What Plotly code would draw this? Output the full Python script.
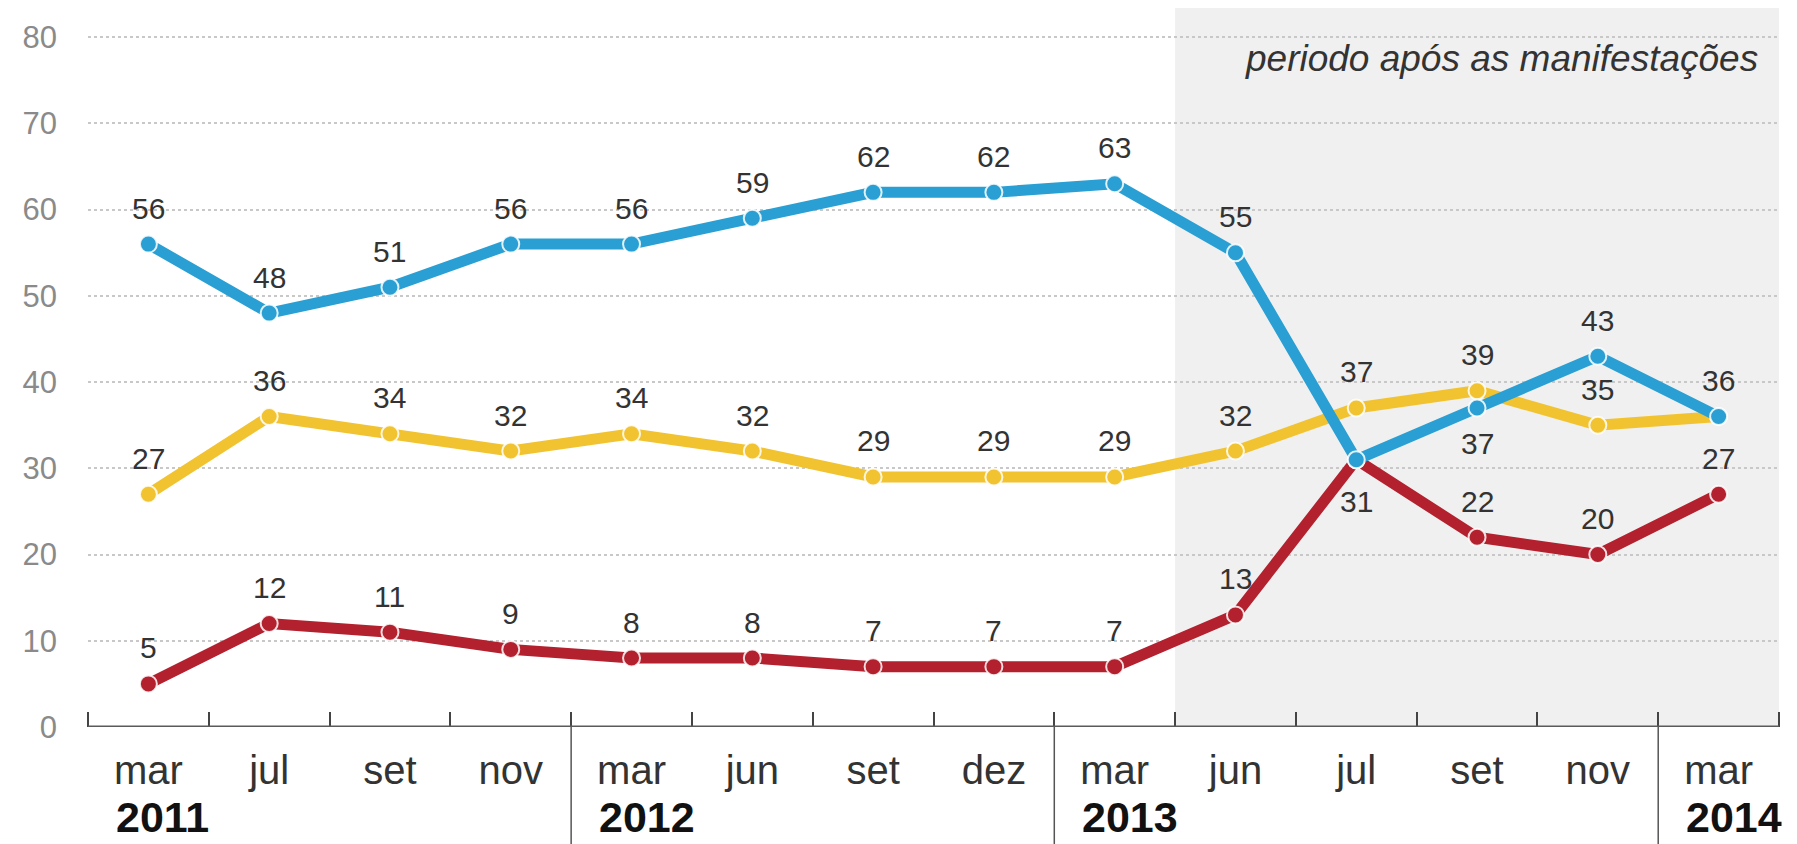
import plotly.graph_objects as go

# ---- data ----
months = ["mar", "jul", "set", "nov", "mar", "jun", "set", "dez",
          "mar", "jun", "jul", "set", "nov", "mar"]
year_labels = ["2011", "2012", "2013", "2014"]
year_start_idx = [0, 4, 8, 13]
blue_vals = [56, 48, 51, 56, 56, 59, 62, 62, 63, 55, 31, 37, 43, 36]
yellow_vals = [27, 36, 34, 32, 34, 32, 29, 29, 29, 32, 37, 39, 35, 36]
red_vals = [5, 12, 11, 9, 8, 8, 7, 7, 7, 13, 31, 22, 20, 27]
# label placement: 1 = above, -1 = below, 0 = hidden
blue_pos = [1, 1, 1, 1, 1, 1, 1, 1, 1, 1, -1, -1, 1, 1]
yellow_pos = [1, 1, 1, 1, 1, 1, 1, 1, 1, 1, 1, 1, 1, 0]
red_pos = [1, 1, 1, 1, 1, 1, 1, 1, 1, 1, 0, 1, 1, 1]
shade_from_idx = 9
y_ticks = [0, 10, 20, 30, 40, 50, 60, 70, 80]

BLUE = "#2a9fd3"
YELLOW = "#f2c331"
RED = "#b3202e"
FONT = "Liberation Sans, Arial, sans-serif"

x = list(range(len(months)))
fig = go.Figure()

for vals, col in [(yellow_vals, YELLOW), (red_vals, RED), (blue_vals, BLUE)]:
    fig.add_trace(go.Scatter(
        x=x, y=vals, mode="lines+markers",
        line=dict(color=col, width=11),
        marker=dict(color=col, size=17, line=dict(color="rgba(255,255,255,0.85)", width=2)),
        showlegend=False, hoverinfo="skip", cliponaxis=False))

annotations = []
for vals, pos in [(blue_vals, blue_pos), (yellow_vals, yellow_pos), (red_vals, red_pos)]:
    for i, (v, p) in enumerate(zip(vals, pos)):
        if p == 0:
            continue
        shift = 36 if p > 0 else -36
        if p < 0 and v < 33:
            shift = -42
        annotations.append(dict(
            x=i, y=v, xref="x", yref="y", text=str(v), showarrow=False,
            yshift=shift, font=dict(family=FONT, size=30, color="#333333")))

for lab, idx in zip(year_labels, year_start_idx):
    annotations.append(dict(
        x=idx - 0.5, y=-0.13, xref="x", yref="paper", text="<b>%s</b>" % lab,
        showarrow=False, xanchor="left", yanchor="middle", xshift=26,
        font=dict(family=FONT, size=43, color="#111111")))

annotations.append(dict(
    x=0.989, y=0.966, xref="paper", yref="paper",
    text="<i>periodo após as manifestações</i>", showarrow=False,
    xanchor="right", yanchor="middle",
    font=dict(family=FONT, size=37, color="#333333")))

shapes = [
    dict(type="rect", xref="x", yref="paper", x0=shade_from_idx - 0.5, x1=len(months) - 0.5,
         y0=0, y1=1.04, fillcolor="#f0f0f0", line=dict(width=0), layer="below"),
]
for idx in year_start_idx[1:]:
    shapes.append(dict(type="line", xref="x", yref="paper", x0=idx - 0.5, x1=idx - 0.5,
                       y0=0, y1=-0.172, line=dict(color="#555555", width=1.5)))
shapes.append(dict(type="line", xref="paper", yref="y", x0=0, x1=1, y0=0, y1=0,
                   line=dict(color="#5a5a5a", width=3), layer="above"))

fig.update_layout(
    width=1797, height=844,
    margin=dict(l=80, r=26, t=21, b=125),
    plot_bgcolor="rgba(0,0,0,0)", paper_bgcolor="white",
    font=dict(family=FONT),
    annotations=annotations, shapes=shapes,
    xaxis=dict(
        range=[-0.5, len(months) - 0.5], tickmode="array", tickvals=x, ticktext=months,
        ticks="", showgrid=False, zeroline=False, showline=False,
        tickfont=dict(family=FONT, size=40, color="#333333"),
        ticklabelstandoff=16,
        minor=dict(tickmode="array", tickvals=[i - 0.5 for i in range(len(months) + 1)],
                   ticks="inside", ticklen=15, tickwidth=2, tickcolor="#444444",
                   showgrid=False),
    ),
    yaxis=dict(
        range=[0, 80.25], tickmode="array", tickvals=y_ticks,
        showgrid=True, gridcolor="#c8c8c8", griddash="dot", gridwidth=2,
        zeroline=False, showline=False, ticks="",
        tickfont=dict(family=FONT, size=31, color="#8a8a8a"),
        ticklabelstandoff=30,
    ),
)

fig.write_html("out.html")
